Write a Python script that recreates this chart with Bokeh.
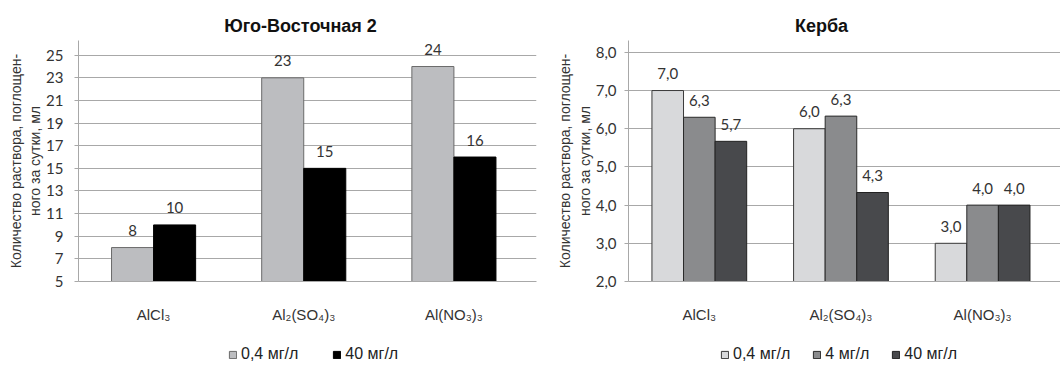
from bokeh.plotting import figure
from bokeh.models import (Range1d, FixedTicker, ColumnDataSource, Legend, LegendItem,
                          CustomJSTickFormatter, Label)
from bokeh.transform import dodge
from bokeh.layouts import row, column
from bokeh.embed import file_html
from bokeh.resources import INLINE
from bokeh.core.properties import value

# ---------------- data ----------------
categories = ["AlCl₃", "Al₂(SO₄)₃", "Al(NO₃)₃"]
y_label = "Количество раствора, поглощен-\nного за сутки, мл"

left_title = "Юго-Восточная 2"
left_series = ["0,4 мг/л", "40 мг/л"]
left_04 = [8, 23, 24]
left_40 = [10, 15, 16]
left_yticks = [5, 7, 9, 11, 13, 15, 17, 19, 21, 23, 25]

right_title = "Керба"
right_series = ["0,4 мг/л", "4 мг/л", "40 мг/л"]
right_04 = [7.0, 6.0, 3.0]
right_4 = [6.3, 6.33, 4.0]
right_40 = [5.67, 4.33, 4.0]
right_yticks = [2, 3, 4, 5, 6, 7, 8]

# ---------------- styles ----------------
SANS = "Liberation Sans"
NUM = "Lato"
GRID = "#a8a8a8"
TXT = "#333333"
TITLE_H = 40
MAIN_H = 285
LEG_H = 40
LW, RW = 540, 520
FRAME_BOTTOM = 283  # canvas y of both frames' bottom edge

left_colors = ["#bcbdc0", "#000000"]
left_lines = ["#6a6a6a", "#000000"]
right_colors = ["#d8d9db", "#8a8b8d", "#48494c"]
right_lines = ["#3a3a3a", "#2a2a2a", "#222222"]


def strip_fig(width, height):
    f = figure(width=width, height=height, output_backend="svg", toolbar_location=None,
               min_border=0, x_axis_location=None, y_axis_location=None,
               x_range=Range1d(0, width), y_range=Range1d(0, height))
    f.outline_line_color = None
    f.grid.visible = False
    f.border_fill_color = "white"
    f.background_fill_color = "white"
    return f


def title_fig(width, text, cx):
    f = strip_fig(width, TITLE_H)
    f.add_layout(Label(x=cx, y=TITLE_H - 25, text=text, text_align="center",
                       text_baseline="middle", text_font=SANS, text_font_size="18px",
                       text_font_style="bold", text_color="#111111"))
    return f


def base_fig(width, yticks, ytop, ml, mr):
    p = figure(width=width, height=MAIN_H, output_backend="svg", toolbar_location=None,
               min_border_left=ml, min_border_right=mr, min_border_top=0,
               min_border_bottom=MAIN_H - (FRAME_BOTTOM - TITLE_H),
               y_range=Range1d(yticks[0], ytop), x_range=Range1d(-0.5, 2.55))
    p.outline_line_color = None
    p.background_fill_color = "white"
    p.border_fill_color = "white"
    p.xgrid.visible = False
    p.ygrid.grid_line_color = GRID
    p.xaxis.ticker = FixedTicker(ticks=list(range(len(categories))))
    p.xaxis.major_label_overrides = {i: c for i, c in enumerate(categories)}
    p.xaxis.major_tick_line_color = None
    p.xaxis.minor_tick_line_color = None
    p.xaxis.axis_line_color = GRID
    p.xaxis.major_label_text_font = SANS
    p.xaxis.major_label_text_font_size = "15px"
    p.xaxis.major_label_text_color = TXT
    p.xaxis.major_label_standoff = 18
    p.yaxis.ticker = FixedTicker(ticks=yticks)
    p.yaxis.minor_tick_line_color = None
    p.yaxis.major_tick_in = 0
    p.yaxis.major_tick_out = 4
    p.yaxis.major_tick_line_color = GRID
    p.yaxis.axis_line_color = GRID
    p.yaxis.major_label_text_font = NUM
    p.yaxis.major_label_text_font_size = "15px"
    p.yaxis.major_label_text_color = TXT
    p.yaxis.axis_label = y_label
    p.yaxis.axis_label_text_font = SANS
    p.yaxis.axis_label_text_font_size = "14px"
    p.yaxis.axis_label_text_font_style = "normal"
    p.yaxis.axis_label_text_color = TXT
    p.yaxis.axis_label_standoff = 0
    return p


def add_bars(p, series_vals, colors, lines, width, fmt, base):
    n = len(series_vals)
    offsets = [(i - (n - 1) / 2) * width for i in range(n)]
    for vals, col, lc, off in zip(series_vals, colors, lines, offsets):
        src = ColumnDataSource(dict(idx=list(range(len(categories))), val=vals,
                                    lbl=[fmt(v) for v in vals]))
        p.vbar(x=dodge("idx", off, range=p.x_range), top="val", bottom=base, width=width,
               source=src, fill_color=col, line_color=lc, line_width=1)
        p.text(x=dodge("idx", off, range=p.x_range), y="val", text="lbl", source=src,
               text_align="center", text_baseline="middle", y_offset=-17,
               text_font=value(NUM), text_font_size="15px", text_color=TXT)


def legend_fig(width, names, colors, lines, x0, spacing, standoff):
    f = strip_fig(width, LEG_H)
    items = []
    for name, col, lc in zip(names, colors, lines):
        # off-screen swatch renderer that only feeds the legend glyph
        r = f.vbar(x=[-10], top=[-10], bottom=-11, width=0.1,
                   fill_color=col, line_color=lc, line_width=1)
        items.append(LegendItem(label=name, renderers=[r]))
    lg = Legend(items=items, orientation="horizontal", location=(x0, 2),
                border_line_color=None, background_fill_alpha=0,
                glyph_width=9, glyph_height=9, label_standoff=standoff, label_height=16,
                label_text_font=SANS, label_text_font_size="16px", label_text_color="#222222",
                spacing=spacing, padding=0, margin=0)
    f.add_layout(lg)
    return f


def fmt_int(v):
    return f"{v:.0f}"


def fmt_dec(v):
    return f"{v:.1f}".replace(".", ",")


# ---------------- left chart ----------------
tl = title_fig(LW, left_title, 300)
pl = base_fig(LW, left_yticks, 26.3, 78, 4)
pl.yaxis.major_label_standoff = 11
add_bars(pl, [left_04, left_40], left_colors, left_lines, 0.28, fmt_int, left_yticks[0])
ll = legend_fig(LW, left_series, left_colors, left_lines, 228, 34, 4)

# ---------------- right chart ----------------
tr = title_fig(RW, right_title, 821 - LW)
pr = base_fig(RW, right_yticks, 8.31, 88, 0)
pr.yaxis.major_label_standoff = 8
pr.yaxis.formatter = CustomJSTickFormatter(code="return tick.toFixed(1).replace('.', ',');")
add_bars(pr, [right_04, right_4, right_40], right_colors, right_lines, 0.223, fmt_dec,
         right_yticks[0])
lr = legend_fig(RW, right_series, right_colors, right_lines, 180, 22, 4)

layout = column(row(tl, tr), row(pl, pr), row(ll, lr))
open("out.html", "w").write(file_html(layout, INLINE))
